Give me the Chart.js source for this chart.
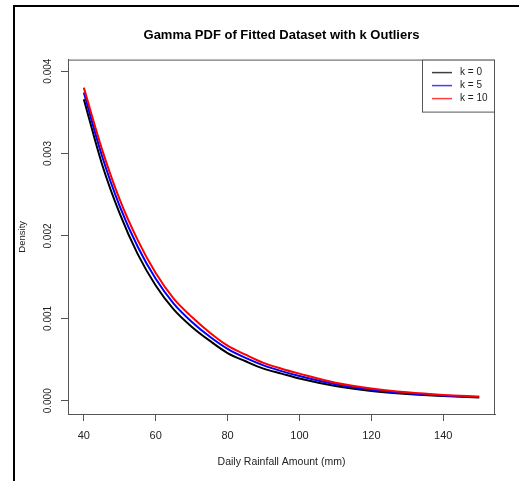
<!DOCTYPE html>
<html>
<head>
<meta charset="utf-8">
<title>Gamma PDF of Fitted Dataset with k Outliers</title>
<script src="https://cdn.jsdelivr.net/npm/chart.js@4.4.0/dist/chart.umd.min.js"></script>
<style>
    html, body { margin: 0; padding: 0; background: #fff; }
    #wrap { position: relative; width: 519px; height: 481px; overflow: hidden; }
    #frame { position: absolute; left: 13px; top: 5px; width: 520px; height: 490px;
             border-left: 2px solid #000; border-top: 2px solid #000; pointer-events: none; }
    canvas { position: absolute; left: 0; top: 0; }
</style>
</head>
<body>
<div id="wrap">
    <canvas id="gammaChart" width="519" height="481"></canvas>
    <div id="frame"></div>
</div>
<script>
// Daily rainfall amounts (mm) where the densities were read
const rainfall = [40, 45, 50, 55, 60, 65, 70, 75, 80, 85, 90, 95, 100, 110, 120, 130, 140, 150];

// Gamma densities
const densityK0 = [0.00366, 0.00288, 0.00227, 0.00178, 0.00140, 0.00111, 0.00090, 0.00073, 0.00058,
                   0.00048, 0.00039, 0.00033, 0.00027, 0.00018, 0.00012, 0.000082, 0.000057, 0.000040];
const densityK5 = [0.00374, 0.00298, 0.00236, 0.00187, 0.00148, 0.00118, 0.00096, 0.00078, 0.00063,
                   0.00052, 0.00043, 0.00036, 0.00030, 0.00020, 0.000135, 0.000092, 0.000064, 0.000045];
const densityK10 = [0.00380, 0.00306, 0.00244, 0.00195, 0.00155, 0.00124, 0.00102, 0.00083, 0.00067,
                    0.00056, 0.00046, 0.00039, 0.00033, 0.00022, 0.00015, 0.000103, 0.000072, 0.000052];

const seriesLabels = ['k = 0', 'k = 5', 'k = 10'];
const seriesColors = ['#000000', '#0000ff', '#ff0000'];

const xTicks = [40, 60, 80, 100, 120, 140];
const yTicks = [0, 0.001, 0.002, 0.003, 0.004];

const fontFamily = "'Liberation Sans', Arial, sans-serif";

function toPoints(values) {
    return rainfall.map((x, i) => ({ x: x, y: values[i] }));
}

// Plot box drawn round the chart area, like R's box()
const plotBox = {
    id: 'plotBox',
    afterDatasetsDraw(chart) {
        const { ctx, chartArea } = chart;
        ctx.save();
        ctx.strokeStyle = '#555';
        ctx.lineWidth = 1;
        ctx.strokeRect(chartArea.left + 0.5, chartArea.top + 0.5,
                       chartArea.right - chartArea.left - 1, chartArea.bottom - chartArea.top);
        ctx.restore();
    }
};

// R style legend in the top right corner of the plot
const boxLegend = {
    id: 'boxLegend',
    afterDraw(chart) {
        const { ctx, chartArea } = chart;
        const w = 73, h = 52;
        const x0 = chartArea.right - w, y0 = chartArea.top;
        ctx.save();
        ctx.fillStyle = '#fff';
        ctx.fillRect(x0, y0, w, h);
        ctx.strokeStyle = '#555';
        ctx.lineWidth = 1;
        ctx.strokeRect(x0 + 0.5, y0 + 0.5, w - 1, h);
        ctx.font = '10px ' + fontFamily;
        ctx.textBaseline = 'middle';
        ctx.textAlign = 'left';
        chart.data.datasets.forEach((ds, i) => {
            const y = y0 + 13 + i * 13;
            ctx.strokeStyle = ds.borderColor;
            ctx.globalAlpha = 0.75;
            ctx.lineWidth = 1.5;
            ctx.beginPath();
            ctx.moveTo(x0 + 10, y);
            ctx.lineTo(x0 + 30, y);
            ctx.stroke();
            ctx.globalAlpha = 1;
            ctx.fillStyle = '#222';
            ctx.fillText(ds.label, x0 + 38, y);
        });
        ctx.restore();
    }
};

const datasets = [densityK0, densityK5, densityK10].map((values, i) => ({
    label: seriesLabels[i],
    data: toPoints(values),
    borderColor: seriesColors[i],
    borderWidth: 2,
    pointRadius: 0,
    fill: false,
    cubicInterpolationMode: 'monotone',
    order: 2 - i
}));

const ctx = document.getElementById('gammaChart').getContext('2d');
const gammaChart = new Chart(ctx, {
    type: 'line',
    data: { datasets: datasets },
    options: {
        responsive: false,
        animation: false,
        layout: { padding: { left: 0, right: 24, top: 0, bottom: 0 } },
        plugins: {
            legend: { display: false },
            tooltip: { enabled: false },
            title: {
                display: true,
                fullSize: false,
                text: 'Gamma PDF of Fitted Dataset with k Outliers',
                color: '#000',
                font: { family: fontFamily, size: 13, weight: 'bold', lineHeight: 1.2 },
                padding: { top: 28, bottom: 16 }
            }
        },
        scales: {
            x: {
                type: 'linear',
                min: 35.6,
                max: 154.4,
                afterBuildTicks: scale => { scale.ticks = xTicks.map(v => ({ value: v })); },
                afterFit: scale => { scale.height = 67; },
                ticks: {
                    color: '#222',
                    font: { family: fontFamily, size: 11 },
                    padding: 8,
                    maxRotation: 0,
                    callback: v => String(v)
                },
                grid: { drawOnChartArea: false, drawTicks: true, tickLength: 7, color: '#555' },
                border: { display: true, color: '#555' },
                title: {
                    display: true,
                    text: 'Daily Rainfall Amount (mm)',
                    color: '#222',
                    font: { family: fontFamily, size: 10.5, lineHeight: 1.2 },
                    padding: { top: 0, bottom: 13 }
                }
            },
            y: {
                type: 'linear',
                min: -0.00016,
                max: 0.00414,
                afterBuildTicks: scale => { scale.ticks = yTicks.map(v => ({ value: v })); },
                afterFit: scale => { scale.width = 68; },
                ticks: {
                    color: '#222',
                    font: { family: fontFamily, size: 10 },
                    minRotation: 90,
                    maxRotation: 90,
                    crossAlign: 'center',
                    padding: 0,
                    callback: v => v.toFixed(3)
                },
                grid: { drawOnChartArea: false, drawTicks: true, tickLength: 7, color: '#555' },
                border: { display: true, color: '#555' },
                title: {
                    display: true,
                    text: 'Density',
                    color: '#222',
                    font: { family: fontFamily, size: 9.5, lineHeight: 1.2 },
                    padding: { top: 17, bottom: 0 }
                }
            }
        }
    },
    plugins: [plotBox, boxLegend]
});
</script>
</body>
</html>
